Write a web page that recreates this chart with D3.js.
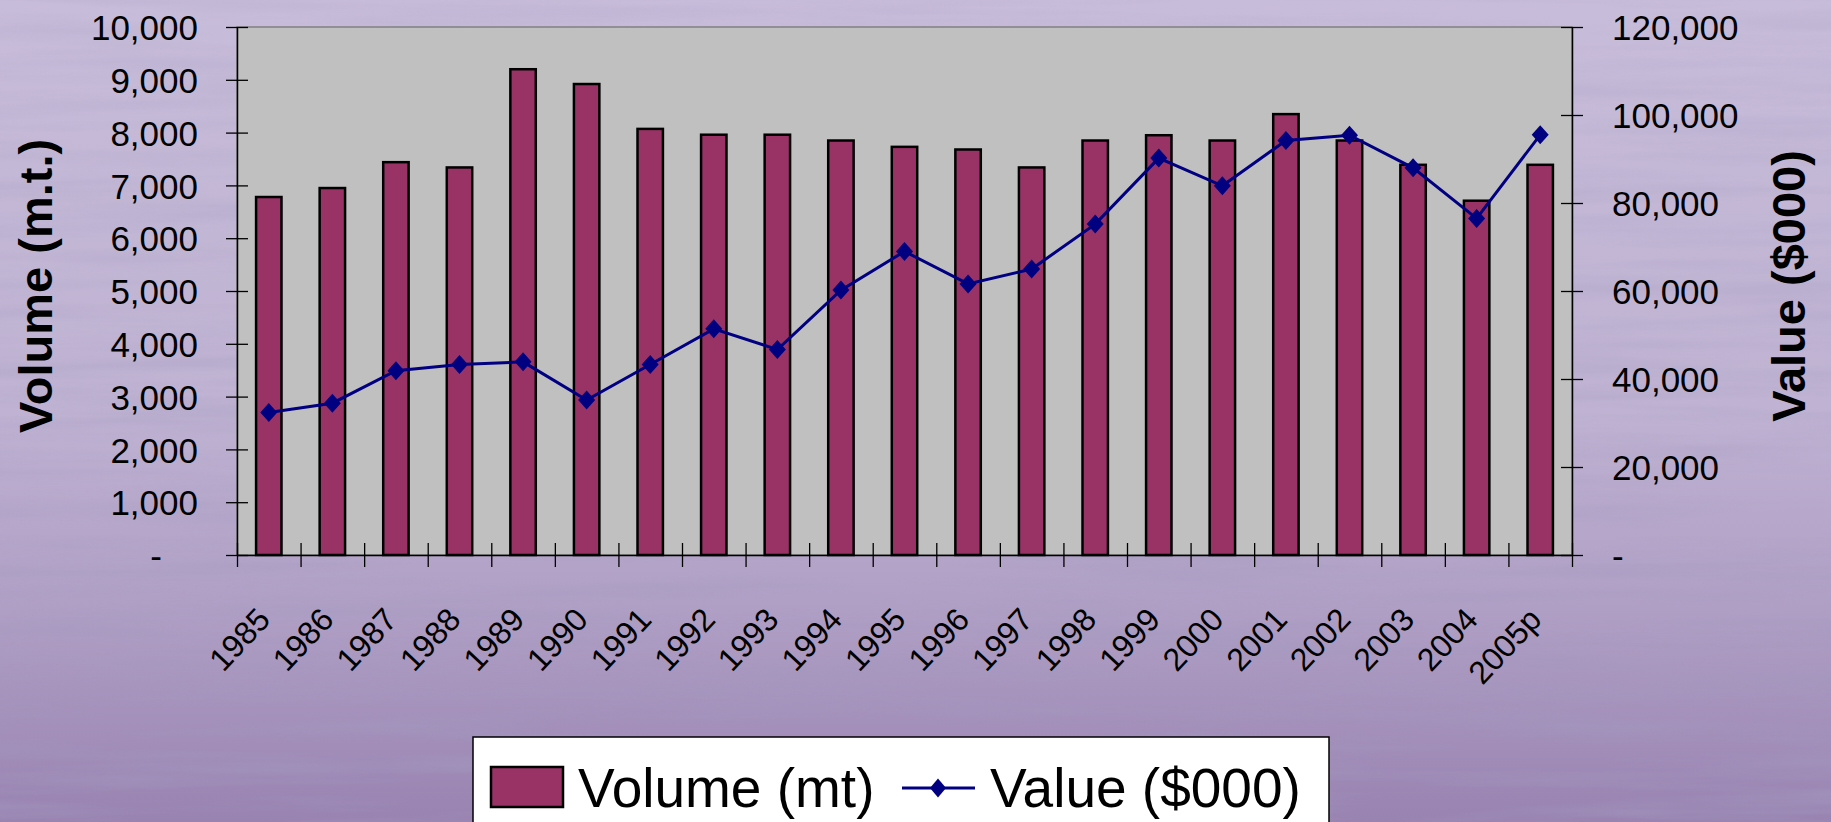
<!DOCTYPE html>
<html>
<head>
<meta charset="utf-8">
<script src="https://cdn.jsdelivr.net/npm/d3@7"></script>
<style>
  body { margin: 0; overflow: hidden; }
  text { font-family: "Liberation Sans", Arial, sans-serif; fill: #000; }
</style>
</head>
<body>
<div id="chart"></div>
<script>
// data
let years = ["1985","1986","1987","1988","1989","1990","1991","1992","1993","1994",
             "1995","1996","1997","1998","1999","2000","2001","2002","2003","2004","2005p"];
let volume = [6780, 6950, 7440, 7340, 9200, 8920, 8070, 7960, 7960, 7850,
              7730, 7680, 7340, 7850, 7950, 7850, 8350, 7850, 7390, 6710, 7390];
let value = [32400, 34500, 41900, 43300, 43900, 35200, 43300, 51400, 46700, 60200,
             69000, 61600, 65000, 75200, 90200, 83900, 94200, 95400, 88000, 76500, 95500];
let volumeTicks = d3.range(0, 10001, 1000);
let valueTicks = d3.range(0, 120001, 20000);

let svgWidth = 1831;
let svgHeight = 822;
let plotLeft = 237, plotRight = 1572, plotTop = 27, plotBottom = 555;

let svg = d3.select("#chart")
  .append("svg")
  .attr("width", svgWidth)
  .attr("height", svgHeight)

// background: lavender gradient with some watery streaks
let defs = svg.append("defs")
let grad = defs.append("linearGradient").attr("id", "bg").attr("x1", 0).attr("y1", 0).attr("x2", 0).attr("y2", 1)
grad.append("stop").attr("offset", 0).attr("stop-color", "#c7bcd9")
grad.append("stop").attr("offset", 0.5).attr("stop-color", "#bfb2d2")
grad.append("stop").attr("offset", 0.74).attr("stop-color", "#b09fc5")
grad.append("stop").attr("offset", 1).attr("stop-color", "#9983b1")

let noise = defs.append("filter").attr("id", "water").attr("x", 0).attr("y", 0).attr("width", 1).attr("height", 1)
noise.append("feTurbulence").attr("type", "fractalNoise").attr("baseFrequency", "0.003 0.05")
  .attr("numOctaves", 4).attr("seed", 7)
noise.append("feColorMatrix").attr("type", "matrix")
  .attr("values", "0 0 0 0 0.36  0 0 0 0 0.32  0 0 0 0 0.52  0 0 0 2.6 -1.05")

let fade = defs.append("linearGradient").attr("id", "fade").attr("x1", 0).attr("y1", 0).attr("x2", 0).attr("y2", 1)
fade.append("stop").attr("offset", 0).attr("stop-color", "#fff").attr("stop-opacity", 0.3)
fade.append("stop").attr("offset", 0.6).attr("stop-color", "#fff").attr("stop-opacity", 0.5)
fade.append("stop").attr("offset", 1).attr("stop-color", "#fff").attr("stop-opacity", 1)
defs.append("mask").attr("id", "fadeMask")
  .append("rect").attr("width", svgWidth).attr("height", svgHeight).attr("fill", "url(#fade)")

svg.append("rect").attr("width", svgWidth).attr("height", svgHeight).attr("fill", "url(#bg)")
svg.append("rect").attr("width", svgWidth).attr("height", svgHeight)
  .attr("filter", "url(#water)").attr("mask", "url(#fadeMask)").attr("opacity", 0.5)

//create the scales
let xBand = d3.scaleBand().domain(years).range([plotLeft, plotRight]).paddingInner(0.6).paddingOuter(0.3)
let xEdge = d3.scaleLinear().domain([0, years.length]).range([plotLeft, plotRight])
let yLeft = d3.scaleLinear().domain([0, 10000]).range([plotBottom, plotTop])
let yRight = d3.scaleLinear().domain([0, 120000]).range([plotBottom, plotTop])

let fmt = d => d === 0 ? "-" : d3.format(",")(d)

// plot area
svg.append("rect")
  .attr("x", plotLeft).attr("y", plotTop)
  .attr("width", plotRight - plotLeft).attr("height", plotBottom - plotTop)
  .attr("fill", "#c0c0c0")
  .attr("stroke", "#808080").attr("stroke-width", 1.5)

// bars
svg.selectAll("rect.bar")
  .data(volume)
  .enter()
  .append("rect")
  .attr("class", "bar")
  .attr("x", (d, i) => xBand(years[i]))
  .attr("width", xBand.bandwidth())
  .attr("y", d => yLeft(d))
  .attr("height", d => plotBottom - yLeft(d))
  .attr("fill", "#993366")
  .attr("stroke", "#000")
  .attr("stroke-width", 2.5)

// value line + diamond markers
let cx = (d, i) => xBand(years[i]) + xBand.bandwidth() / 2
let line = d3.line().x(cx).y(d => yRight(d))
let diamond = (w, h) => `M0,${-h}L${w},0L0,${h}L${-w},0Z`

svg.append("path")
  .datum(value)
  .attr("d", line)
  .attr("fill", "none")
  .attr("stroke", "#000080")
  .attr("stroke-width", 3)

svg.selectAll("path.marker")
  .data(value)
  .enter()
  .append("path")
  .attr("class", "marker")
  .attr("d", diamond(8.5, 9.5))
  .attr("transform", (d, i) => `translate(${cx(d, i)},${yRight(d)})`)
  .attr("fill", "#000080")

// left axis
let leftAxis = svg.append("g")
  .attr("transform", `translate(${plotLeft},0)`)
  .call(d3.axisLeft(yLeft).tickValues(volumeTicks).tickFormat(fmt).tickSizeOuter(0))
leftAxis.select(".domain").attr("stroke", "#000").attr("stroke-width", 1.5)
leftAxis.selectAll(".tick line").attr("x1", 11).attr("x2", -11).attr("stroke", "#000").attr("stroke-width", 1.3)
leftAxis.selectAll(".tick text")
  .attr("x", d => d === 0 ? -75 : -39)
  .attr("dy", "0.36em")
  .style("font-size", "35px")
  .style("font-family", "'Liberation Sans', Arial, sans-serif")

// right axis
let rightAxis = svg.append("g")
  .attr("transform", `translate(${plotRight},0)`)
  .call(d3.axisRight(yRight).tickValues(valueTicks).tickFormat(fmt).tickSizeOuter(0))
rightAxis.select(".domain").attr("stroke", "#000").attr("stroke-width", 1.5)
rightAxis.selectAll(".tick line").attr("x1", -11).attr("x2", 11).attr("stroke", "#000").attr("stroke-width", 1.3)
rightAxis.selectAll(".tick text")
  .attr("x", 40)
  .attr("dy", "0.36em")
  .style("font-size", "35px")
  .style("font-family", "'Liberation Sans', Arial, sans-serif")

// bottom axis: tick marks on category edges
let edgeAxis = svg.append("g")
  .attr("transform", `translate(0,${plotBottom})`)
  .call(d3.axisBottom(xEdge).ticks(years.length).tickFormat("").tickSizeOuter(0))
edgeAxis.select(".domain").attr("stroke", "#000").attr("stroke-width", 1.5)
edgeAxis.selectAll(".tick line").attr("y1", -12).attr("y2", 12).attr("stroke", "#000").attr("stroke-width", 1.3)

// category labels, rotated
let labelAxis = svg.append("g")
  .attr("transform", `translate(0,${plotBottom})`)
  .call(d3.axisBottom(xBand).tickSize(0))
labelAxis.select(".domain").remove()
labelAxis.selectAll(".tick text")
  .attr("x", 0).attr("y", 0).attr("dy", 0)
  .attr("text-anchor", "end")
  .attr("transform", "translate(3,66) rotate(-47)")
  .style("font-size", "32px")
  .style("font-family", "'Liberation Sans', Arial, sans-serif")

// axis titles
svg.append("text")
  .attr("transform", `translate(52,${(plotTop + plotBottom) / 2 - 5}) rotate(-90)`)
  .attr("text-anchor", "middle")
  .style("font-size", "47px")
  .style("font-weight", "bold")
  .text("Volume (m.t.)")

svg.append("text")
  .attr("transform", `translate(1805,${(plotTop + plotBottom) / 2 - 5}) rotate(-90)`)
  .attr("text-anchor", "middle")
  .style("font-size", "47px")
  .style("font-weight", "bold")
  .text("Value ($000)")

// legend
let legend = svg.append("g")
legend.append("rect")
  .attr("x", 473).attr("y", 737).attr("width", 856).attr("height", 120)
  .attr("fill", "#fff").attr("stroke", "#000").attr("stroke-width", 1.5)
legend.append("rect")
  .attr("x", 491).attr("y", 767).attr("width", 72).attr("height", 40)
  .attr("fill", "#993366").attr("stroke", "#000").attr("stroke-width", 2.5)
legend.append("text")
  .attr("x", 578).attr("y", 807)
  .style("font-size", "55px")
  .text("Volume (mt)")
legend.append("line")
  .attr("x1", 902).attr("x2", 975).attr("y1", 788).attr("y2", 788)
  .attr("stroke", "#000080").attr("stroke-width", 3)
legend.append("path")
  .attr("d", diamond(8, 9.5))
  .attr("transform", "translate(938,788)")
  .attr("fill", "#000080")
legend.append("text")
  .attr("x", 990).attr("y", 807)
  .style("font-size", "55px")
  .text("Value ($000)")
</script>
</body>
</html>
